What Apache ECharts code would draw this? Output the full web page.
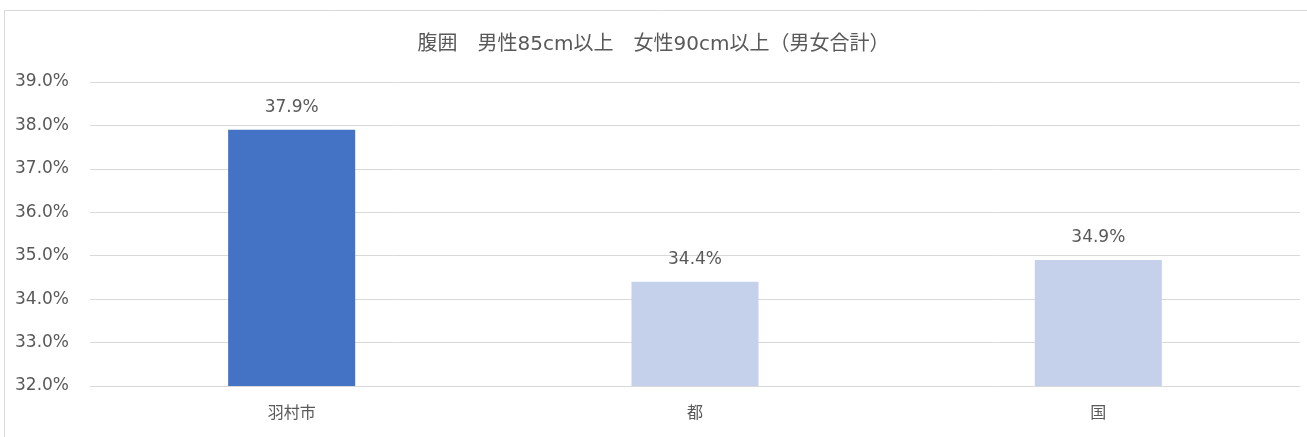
<!DOCTYPE html>
<html>
<head>
<meta charset="utf-8">
<script src="https://cdn.jsdelivr.net/npm/echarts@6/dist/echarts.min.js"></script>
<style>
  html, body { margin: 0; padding: 0; background: #fff; }
  #chart { width: 1307px; height: 437px; }
</style>
</head>
<body>
<div id="chart"></div>
<script>
// Waist circumference: men >= 85cm, women >= 90cm (both sexes combined)
const titleText = '腹囲　男性85cm以上　女性90cm以上（男女合計）';
const categories = ['羽村市', '都', '国'];
const values = [37.9, 34.4, 34.9];
const barColors = ['#4472C4', '#C5D1EA', '#C5D1EA'];
const yMin = 32, yMax = 39, yStep = 1;

// Latin glyphs from DejaVu Sans, Japanese glyphs fall back to Noto Sans CJK JP
const font = '"DejaVu Sans", "Noto Sans CJK JP", sans-serif';
const textColor = '#595959';

const chart = echarts.init(document.getElementById('chart'), null, { renderer: 'canvas' });
chart.setOption({
  animation: false,
  backgroundColor: '#fff',
  graphic: [{
    type: 'rect',
    shape: { x: 4.5, y: 10.5, width: 1320, height: 450 },
    style: { fill: 'none', stroke: '#D9D9D9', lineWidth: 1 },
    silent: true,
    z: -1
  }],
  title: {
    text: titleText,
    left: 'center',
    top: 30,
    textStyle: { fontFamily: font, fontSize: 20, fontWeight: 'normal', color: textColor }
  },
  grid: { left: 90, right: 7, top: 82, bottom: 51, containLabel: false },
  xAxis: {
    type: 'category',
    data: categories,
    axisLine: { show: true, lineStyle: { color: '#D9D9D9' } },
    axisTick: { show: false },
    axisLabel: { fontFamily: font, fontSize: 16, color: textColor, margin: 20 }
  },
  yAxis: {
    type: 'value',
    min: yMin,
    max: yMax,
    interval: yStep,
    axisLine: { show: false },
    axisTick: { show: false },
    splitLine: { lineStyle: { color: '#D9D9D9' } },
    axisLabel: {
      fontFamily: font, fontSize: 17, color: textColor, margin: 21,
      padding: [3, 0, 0, 0],
      formatter: v => v.toFixed(1) + '%'
    }
  },
  series: [{
    type: 'bar',
    barWidth: '31.5%',
    data: values.map((v, i) => ({ value: v, itemStyle: { color: barColors[i] } })),
    label: {
      show: true,
      position: 'top',
      distance: 14,
      fontFamily: font,
      fontSize: 17,
      color: textColor,
      formatter: p => p.value.toFixed(1) + '%'
    }
  }]
});
</script>
</body>
</html>
